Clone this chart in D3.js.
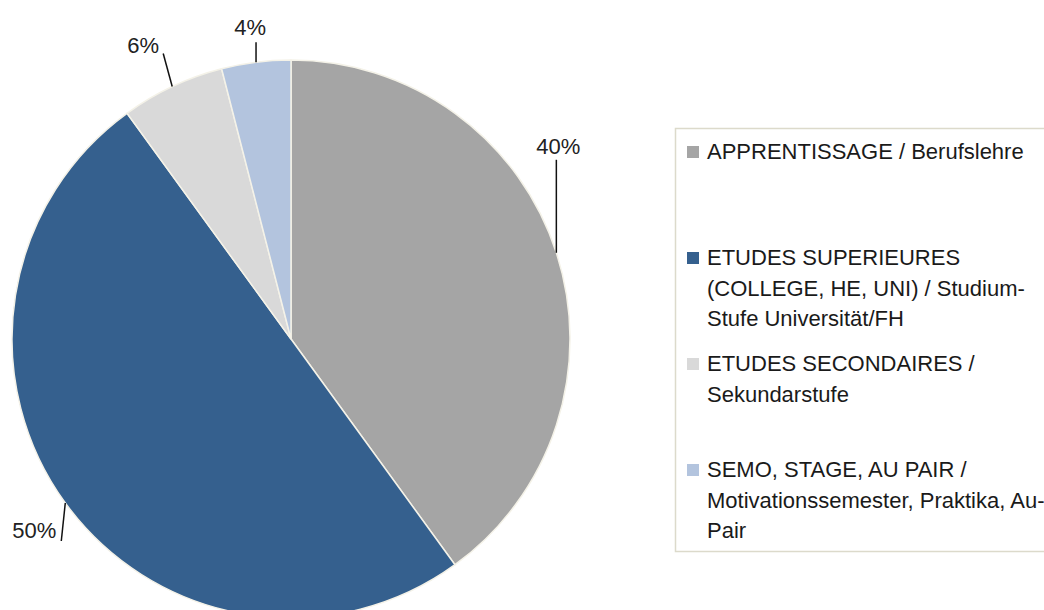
<!DOCTYPE html>
<html>
<head>
<meta charset="utf-8">
<script src="https://cdn.jsdelivr.net/npm/d3@7"></script>
<style>
  body { margin: 0; background: #fff; }
  svg { display: block; font-family: "Liberation Sans", Arial, sans-serif; }
</style>
</head>
<body>
<div id="chart"></div>
<script>
// data
const categories = [
  "APPRENTISSAGE / Berufslehre",
  "ETUDES SUPERIEURES (COLLEGE, HE, UNI) / Studium-Stufe Universität/FH",
  "ETUDES SECONDAIRES / Sekundarstufe",
  "SEMO, STAGE, AU PAIR / Motivationssemester, Praktika, Au-Pair",
];
const legendLines = [
  ["APPRENTISSAGE / Berufslehre"],
  ["ETUDES SUPERIEURES", "(COLLEGE, HE, UNI) / Studium-", "Stufe Universität/FH"],
  ["ETUDES SECONDAIRES /", "Sekundarstufe"],
  ["SEMO, STAGE, AU PAIR /", "Motivationssemester, Praktika, Au-", "Pair"],
];
const values = [40, 50, 6, 4];
const colors = ["#a5a5a5", "#35608e", "#d9d9d9", "#b3c4de"];

// label leader ends, relative to the rim point at each slice's mid angle
const leaderEnds = [[0, -93], [-4, 38], [-9, -33], [0, -20]];
const labelAnchor = [
  { dx: 2, dy: -6, anchor: "middle" },
  { dx: -5, dy: -3, anchor: "end" },
  { dx: -20, dy: -1, anchor: "middle" },
  { dx: -6, dy: -7, anchor: "middle" },
];

const width = 1044, height = 610;
const cx = 291, cy = 339, radius = 279;

const svg = d3.select("#chart").append("svg")
  .attr("width", width)
  .attr("height", height);

const pie = d3.pie().sort(null).value((d) => d);
const arcs = pie(values);
const arc = d3.arc().innerRadius(0).outerRadius(radius);

const g = svg.append("g").attr("transform", `translate(${cx},${cy})`);

g.selectAll(".slice")
  .data(arcs)
  .join("path")
  .attr("class", "slice")
  .attr("d", arc)
  .attr("fill", (d, i) => colors[i])
  .attr("stroke", "#f4f2e8")
  .attr("stroke-width", 1.5);

const rimPoint = (d) => {
  const a = (d.startAngle + d.endAngle) / 2;
  return [radius * Math.sin(a), -radius * Math.cos(a)];
};

const labels = g.selectAll(".label")
  .data(arcs)
  .join("g")
  .attr("class", "label");

labels.append("line")
  .attr("x1", (d) => rimPoint(d)[0])
  .attr("y1", (d) => rimPoint(d)[1])
  .attr("x2", (d, i) => rimPoint(d)[0] + leaderEnds[i][0])
  .attr("y2", (d, i) => rimPoint(d)[1] + leaderEnds[i][1])
  .attr("stroke", "#111")
  .attr("stroke-width", 1.5);

labels.append("text")
  .attr("x", (d, i) => rimPoint(d)[0] + leaderEnds[i][0] + labelAnchor[i].dx)
  .attr("y", (d, i) => rimPoint(d)[1] + leaderEnds[i][1] + labelAnchor[i].dy)
  .attr("text-anchor", (d, i) => labelAnchor[i].anchor)
  .attr("font-size", 22)
  .attr("fill", "#222")
  .text((d) => `${d.data}%`);

// legend (box runs off the right edge, as in the original)
const legend = svg.append("g").attr("transform", "translate(675,128)");
legend.append("rect")
  .attr("x", 0.5)
  .attr("y", 0.5)
  .attr("width", 420)
  .attr("height", 423)
  .attr("fill", "#fff")
  .attr("stroke", "#dcdacb")
  .attr("stroke-width", 1.5);

const itemY = d3.scaleLinear().domain([0, 3]).range([31, 349]);
const lineH = 30.5;

const items = legend.selectAll(".item")
  .data(categories)
  .join("g")
  .attr("class", "item")
  .attr("transform", (d, i) => `translate(0,${itemY(i)})`);

items.append("rect")
  .attr("x", 12)
  .attr("y", -13)
  .attr("width", 12)
  .attr("height", 12)
  .attr("fill", (d, i) => colors[i]);

items.append("text")
  .attr("font-size", 22)
  .attr("fill", "#1a1a1a")
  .selectAll("tspan")
  .data((d, i) => legendLines[i])
  .join("tspan")
  .attr("x", 32)
  .attr("y", (d, j) => j * lineH)
  .text((d) => d);
</script>
</body>
</html>
